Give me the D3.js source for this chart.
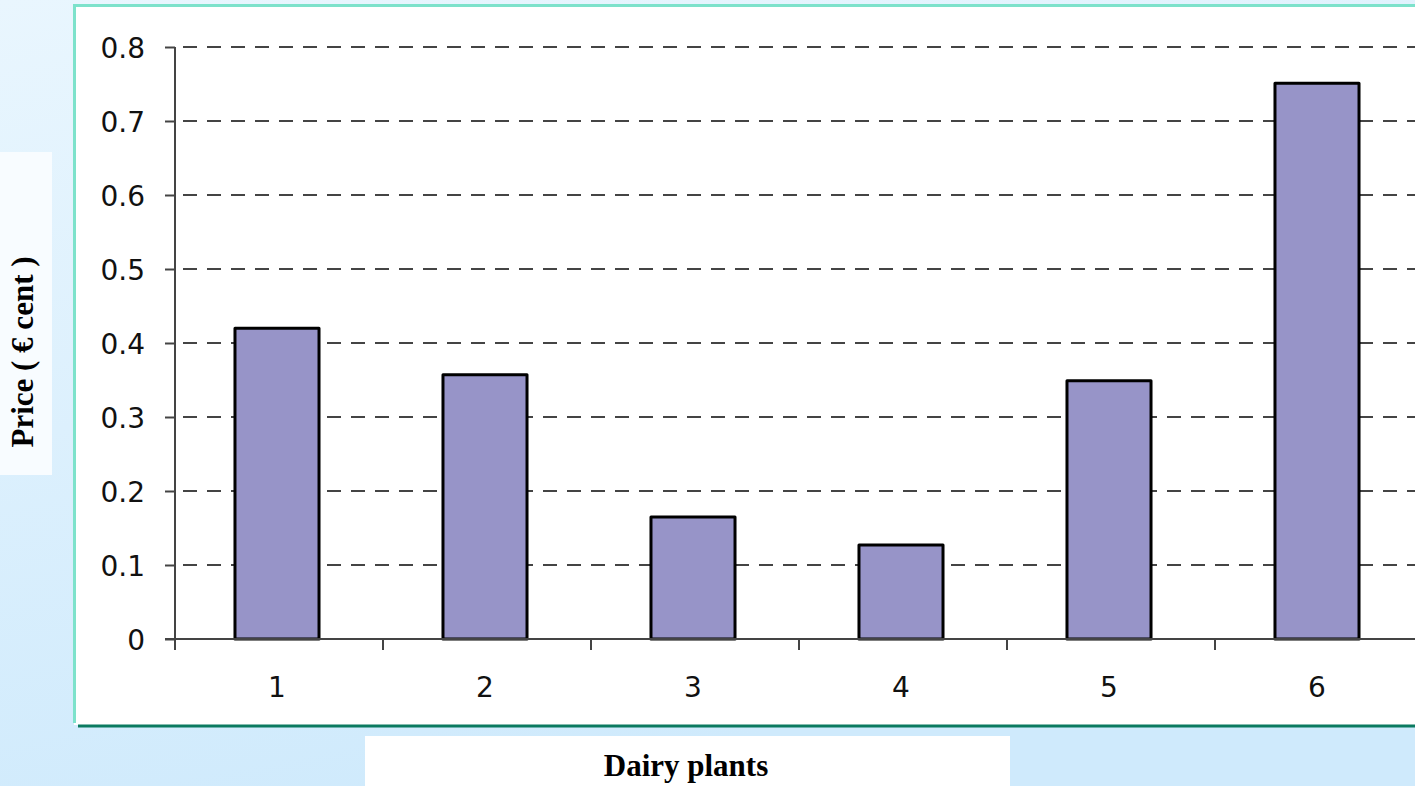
<!DOCTYPE html>
<html>
<head>
<meta charset="utf-8">
<script src="https://cdn.jsdelivr.net/npm/d3@7"></script>
<style>
  html, body { margin: 0; padding: 0; overflow: hidden; }
  svg { display: block; }
</style>
</head>
<body>
<svg id="chart" width="1415" height="786"></svg>
<script>
// Price per dairy plant
const plants = ["1", "2", "3", "4", "5", "6"];
const prices = [0.42, 0.357, 0.165, 0.127, 0.349, 0.751];
const yTicks = [0, 0.1, 0.2, 0.3, 0.4, 0.5, 0.6, 0.7, 0.8];

const svg = d3.select("#chart");
const W = 1415, H = 786;
const sans = "'DejaVu Sans', Verdana, sans-serif";
const serif = "'Liberation Serif', 'Times New Roman', serif";

// slide background
const defs = svg.append("defs");
const grad = defs.append("linearGradient").attr("id", "bg")
  .attr("x1", 0).attr("y1", 0).attr("x2", 0.35).attr("y2", 1);
grad.append("stop").attr("offset", "0%").attr("stop-color", "#e9f6fe");
grad.append("stop").attr("offset", "100%").attr("stop-color", "#cfeafc");
svg.append("rect").attr("width", W).attr("height", H).attr("fill", "url(#bg)");

// white chart panel with borders
svg.append("rect").attr("x", 74).attr("y", 5).attr("width", W - 74).attr("height", 720).attr("fill", "#ffffff");
svg.append("line").attr("x1", 73).attr("x2", W).attr("y1", 5.5).attr("y2", 5.5)
  .attr("stroke", "#7de2cb").attr("stroke-width", 3);
svg.append("line").attr("x1", 74.5).attr("x2", 74.5).attr("y1", 4).attr("y2", 723)
  .attr("stroke", "#7de2cb").attr("stroke-width", 3);
svg.append("line").attr("x1", 78).attr("x2", W).attr("y1", 726).attr("y2", 726)
  .attr("stroke", "#0b7a60").attr("stroke-width", 3);

// plot area
const x0 = 175, y0 = 639, yTop = 47;
const band = 208;
const x = d3.scaleBand().domain(plants).range([x0 - 2, x0 - 2 + band * plants.length])
  .paddingInner(0.596).paddingOuter(0.298);
const y = d3.scaleLinear().domain([0, 0.8]).range([y0, yTop]);

// dashed gridlines
svg.append("g").selectAll("line").data(yTicks.filter(d => d > 0)).join("line")
  .attr("x1", x0 + 8).attr("x2", W)
  .attr("y1", d => y(d)).attr("y2", d => y(d))
  .attr("stroke", "#444").attr("stroke-width", 2)
  .attr("stroke-dasharray", "14,10");

// y axis
const yAxis = d3.axisLeft(y).tickValues(yTicks).tickFormat(d => d === 0 ? "0" : d3.format(".1f")(d))
  .tickSize(10).tickPadding(20);
const gy = svg.append("g").attr("transform", `translate(${x0},0)`).call(yAxis);
gy.attr("font-family", sans).attr("font-size", 28);
gy.select(".domain").attr("stroke", "#444").attr("stroke-width", 2).attr("d", `M0,${yTop}V${y0}`);
gy.selectAll(".tick line").attr("stroke", "#444").attr("stroke-width", 2);
gy.selectAll(".tick text").attr("fill", "#111").attr("dy", "0.36em");

// bars
svg.append("g").selectAll("rect").data(plants).join("rect")
  .attr("x", d => x(d)).attr("width", x.bandwidth())
  .attr("y", (d, i) => y(prices[i])).attr("height", (d, i) => y0 - y(prices[i]))
  .attr("fill", "#9794c8").attr("stroke", "#000").attr("stroke-width", 3)
  .attr("stroke-linejoin", "round");

// x axis
svg.append("line").attr("x1", x0 - 10).attr("x2", W).attr("y1", y0).attr("y2", y0)
  .attr("stroke", "#444").attr("stroke-width", 2);
const boundaries = d3.range(plants.length).map(i => x0 + i * band);
svg.append("g").selectAll("line").data(boundaries).join("line")
  .attr("x1", d => d).attr("x2", d => d).attr("y1", y0).attr("y2", y0 + 11)
  .attr("stroke", "#444").attr("stroke-width", 2);
svg.append("g").selectAll("text").data(plants).join("text")
  .attr("x", d => x(d) + x.bandwidth() / 2).attr("y", 697)
  .attr("text-anchor", "middle")
  .attr("font-family", sans)
  .attr("font-size", 28).attr("fill", "#111")
  .text(d => d);

// y title
svg.append("rect").attr("x", 0).attr("y", 152).attr("width", 52).attr("height", 323).attr("fill", "#f8fcff");
svg.append("text")
  .attr("transform", "translate(33,352) rotate(-90)")
  .attr("text-anchor", "middle")
  .attr("font-family", serif)
  .attr("font-weight", "bold").attr("font-size", 31).attr("fill", "#000")
  .text("Price ( € cent )");

// x title
svg.append("rect").attr("x", 365).attr("y", 736).attr("width", 645).attr("height", 50).attr("fill", "#ffffff");
svg.append("text")
  .attr("x", 686).attr("y", 776)
  .attr("text-anchor", "middle")
  .attr("font-family", serif)
  .attr("font-weight", "bold").attr("font-size", 31).attr("fill", "#000")
  .text("Dairy plants");
</script>
</body>
</html>
